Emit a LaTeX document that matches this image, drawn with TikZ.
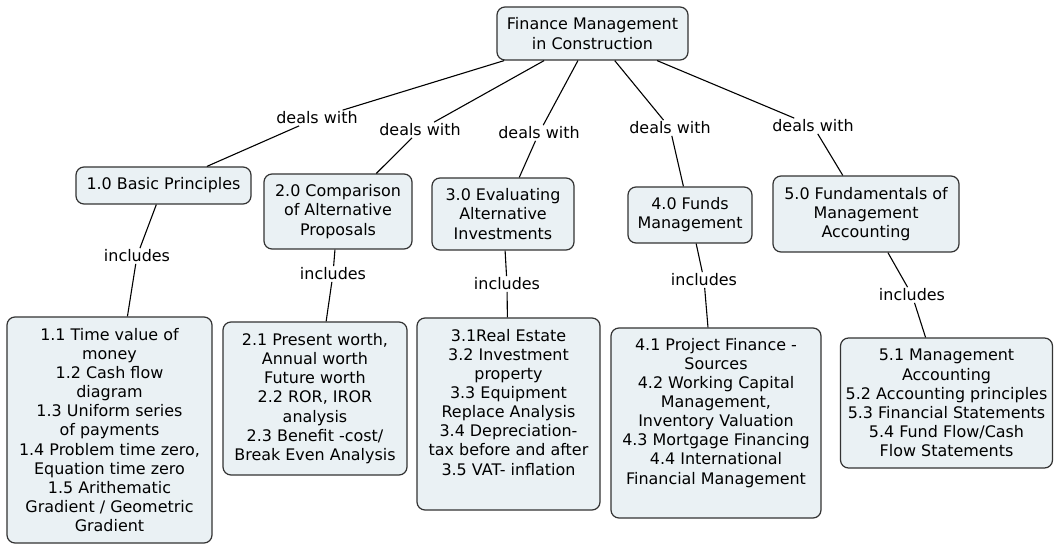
\documentclass[tikz,border=0pt]{standalone}
\usepackage{fontspec}
\setmainfont{DejaVu Sans}
\definecolor{boxfill}{HTML}{EAF1F4}
\definecolor{boxline}{HTML}{333333}
\begin{document}
\begin{tikzpicture}[x=1bp,y=-1bp,
  concept/.style={draw=boxline, line width=1.2bp, fill=boxfill, rounded corners=8bp,
    align=center, inner sep=0pt, font=\fontsize{16}{19.2}\selectfont},
  linklabel/.style={fill=white, inner sep=1.5bp, font=\fontsize{16}{19.2}\selectfont},
  conn/.style={draw=black, line width=1.1bp}]
\useasboundingbox[fill=white] (0,0) rectangle (1054,544);
% concepts
\node[concept, minimum width=191bp, minimum height=53bp] (top) at (592.5,33.5) {Finance Management\\in Construction};
\node[concept, minimum width=175bp, minimum height=37bp] (b1) at (163.5,185.5) {1.0 Basic Principles};
\node[concept, minimum width=148bp, minimum height=75bp] (b2) at (338,211.5) {2.0 Comparison\\of Alternative\\Proposals};
\node[concept, minimum width=142bp, minimum height=72bp] (b3) at (503,214) {3.0 Evaluating\\Alternative\\Investments};
\node[concept, minimum width=124bp, minimum height=56bp] (b4) at (690,215) {4.0 Funds\\Management};
\node[concept, minimum width=186bp, minimum height=76bp] (b5) at (866,214) {5.0 Fundamentals of\\Management\\Accounting};
\node[concept, minimum width=205bp, minimum height=226bp] (c1) at (109.5,430) {1.1 Time value of\\money\\1.2 Cash flow\\diagram\\1.3 Uniform series\\of payments\\1.4 Problem time zero,\\Equation time zero\\1.5 Arithematic\\Gradient / Geometric\\Gradient};
\node[concept, minimum width=184bp, minimum height=153bp] (c2) at (315,398.5) {2.1 Present worth,\\Annual worth\\Future worth\\2.2 ROR, IROR\\analysis\\2.3 Benefit -cost/\\Break Even Analysis};
\node[concept, minimum width=183bp, minimum height=192bp] (c3) at (508.5,414) {3.1Real Estate\\3.2 Investment\\property\\3.3 Equipment\\Replace Analysis\\3.4 Depreciation-\\tax before and after\\3.5 VAT- inflation\rule[-24bp]{0pt}{1bp}};
\node[concept, minimum width=210bp, minimum height=190bp] (c4) at (716,423) {4.1 Project Finance -\\Sources\\4.2 Working Capital\\Management,\\Inventory Valuation\\4.3 Mortgage Financing\\4.4 International\\Financial Management\rule[-24bp]{0pt}{1bp}};
\node[concept, minimum width=212bp, minimum height=130bp] (c5) at (946.5,403) {5.1 Management\\Accounting\\5.2 Accounting principles\\5.3 Financial Statements\\5.4 Fund Flow/Cash\\Flow Statements};
% link labels
\node[linklabel] (d1) at (317,118) {deals with};
\node[linklabel] (d2) at (420,130) {deals with};
\node[linklabel] (d3) at (539,133) {deals with};
\node[linklabel] (d4) at (670,128) {deals with};
\node[linklabel] (d5) at (813,126) {deals with};
\node[linklabel] (i1) at (137,256) {includes};
\node[linklabel] (i2) at (333,274) {includes};
\node[linklabel] (i3) at (507,284) {includes};
\node[linklabel] (i4) at (704,280) {includes};
\node[linklabel] (i5) at (912,295) {includes};
% connectors
\draw[conn] (top) -- (d1) -- (b1);
\draw[conn] (top) -- (d2) -- (b2);
\draw[conn] (top) -- (d3) -- (b3);
\draw[conn] (top) -- (d4) -- (b4);
\draw[conn] (top) -- (d5) -- (b5);
\draw[conn] (b1) -- (i1) -- (c1);
\draw[conn] (b2) -- (i2) -- (c2);
\draw[conn] (b3) -- (i3) -- (c3);
\draw[conn] (b4) -- (i4) -- (c4);
\draw[conn] (b5) -- (i5) -- (c5);
\end{tikzpicture}
\end{document}
